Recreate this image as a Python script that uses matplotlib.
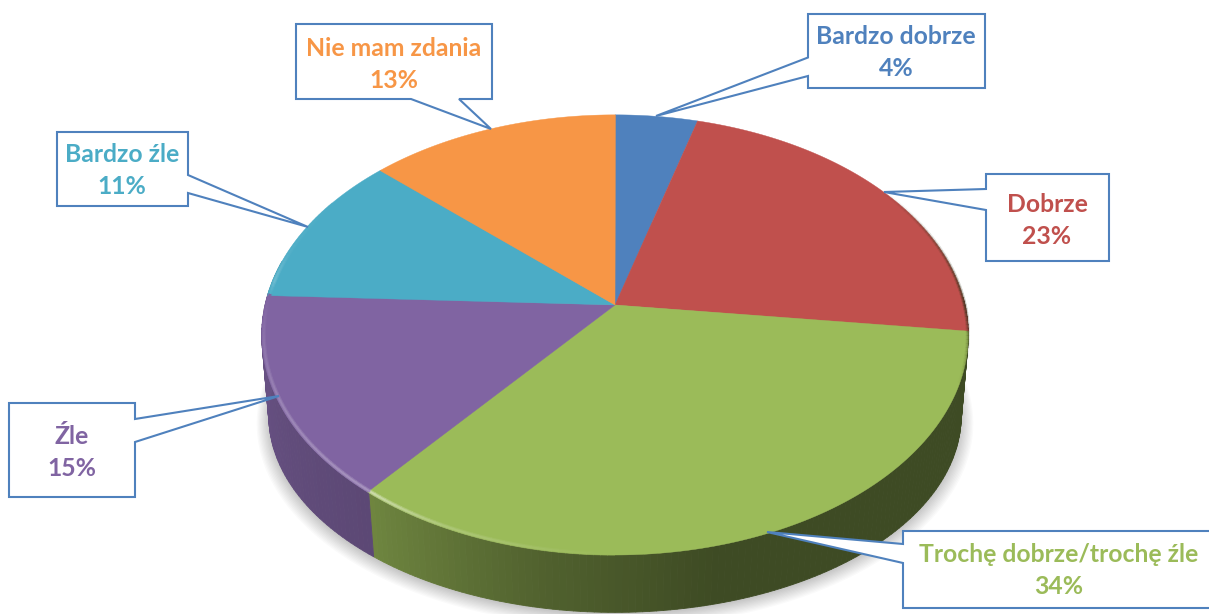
#!/usr/bin/env python3
# 3D-looking pie with callout labels, drawn in pixel coordinates
import numpy as np
import matplotlib
matplotlib.use("Agg")
import matplotlib.pyplot as plt
from matplotlib.collections import LineCollection, PolyCollection
from matplotlib.colors import to_rgb

labels = ["Bardzo dobrze", "Dobrze", "Trochę dobrze/trochę źle", "Źle", "Bardzo źle", "Nie mam zdania"]
values = [4.3, 22.6, 34.0, 14.8, 11.2, 13.1]
percent_labels = ["4%", "23%", "34%", "15%", "11%", "13%"]
colors = ["#4F81BD", "#C0504D", "#9BBB59", "#8064A2", "#4BACC6", "#F79646"]

W, H = 1209, 614
BORDER = "#4F81BD"

# perspective of the disc
CX, CY = 615.0, 305.0
A, B, K = 350.0, 216.0, 0.136
# lower edge of the wall is a bit flatter than the top face
BOTTOM_X_SCALE, BOTTOM_Y, BOTTOM_B = 0.98, 389.0, 193.0

# callout layout: box (x0, y0, x1, y1), tail base, tail tip, text centre
boxes = [(808, 14, 985, 88), (986, 174, 1109, 261), (903, 531, 1220, 608),
         (9, 403, 135, 497), (57, 132, 188, 206), (296, 24, 492, 99)]
tail_base = [((808, 57.5), (808, 76)), ((986, 189), (986, 210)), ((903, 544), (903, 563)),
             ((135, 419), (135, 442)), ((188, 175), (188, 193)), ((411, 99), (459, 99))]
tail_tip = [(656, 116), (884, 192), (767, 532), (279, 396), (308, 227), (491, 129)]
text_pos = [(896, 37, 69), (1047, 204, 237), (1059, 554, 587), (72, 436, 468), (122, 155, 187), (394, 48, 80)]


def rim(theta_deg, scale=1.0):
    # theta clockwise from 12 o'clock
    t = np.radians(theta_deg)
    u, v = np.sin(t), np.cos(t)
    w = 1 + K * v
    return CX + scale * A * u / w, CY - scale * B * v / w


def low_rim(theta_deg, scale=1.0, drop=0.0):
    t = np.radians(theta_deg)
    u, v = np.sin(t), np.cos(t)
    w = 1 + K * v
    return CX + scale * BOTTOM_X_SCALE * A * u / w, BOTTOM_Y + drop - scale * BOTTOM_B * v / w


def lighten(c, f):
    c = np.array(to_rgb(c))
    return tuple(c + (1 - c) * f)


def main():
    fig = plt.figure(figsize=(W / 100, H / 100), dpi=100)
    ax = fig.add_axes([0, 0, 1, 1])
    ax.set_xlim(0, W)
    ax.set_ylim(H, 0)
    ax.axis("off")

    edges = np.concatenate([[0], np.cumsum(values)]) / np.sum(values) * 360.0

    # soft shadow under the disc
    theta_all = np.linspace(0, 360, 361)
    for s, d in zip(np.linspace(1.035, 0.99, 14), np.linspace(7, 1, 14)):
        ax.fill(*low_rim(theta_all, s, d), color="k", alpha=0.018, lw=0, zorder=1)

    # side wall, small slices with a shade depending on angle
    step = 1.0
    thetas = np.arange(88, 282, step)
    polys, face = [], []
    for th in thetas:
        tt = np.array([th, th + step])
        top = np.column_stack(rim(tt))
        bot = np.column_stack(low_rim(tt))
        polys.append(np.vstack([top, bot[::-1]]))
        i = np.searchsorted(edges, th + step / 2) - 1
        shade = np.interp(th, [88, 165, 190, 219, 280], [0.40, 0.40, 0.52, 0.72, 0.84])
        face.append(tuple(np.array(to_rgb(colors[i])) * shade))
    ax.add_collection(PolyCollection(polys, facecolors=face, edgecolors=face, linewidths=0.6, zorder=2))

    # top of the disc
    for i in range(len(values)):
        tt = np.arange(edges[i], edges[i + 1] + 0.25, 0.25)
        xs, ys = rim(tt)
        ax.fill(np.r_[CX, xs], np.r_[CY, ys], color=colors[i], lw=0.3, zorder=3)

    # bevel along the rim: light at the front left, dark on the right
    segs, cols = [], []
    for th in np.arange(55, 300, 1.0):
        i = np.searchsorted(edges, th + 0.5) - 1
        tt = np.array([th, th + 1.1])
        if th >= 180:
            if i == 2:
                f = np.interp(th, [180, 205, 219], [0.0, 0.18, 0.5])
            else:
                f = np.interp(th, [219, 245, 262, 272, 276, 284, 300], [0.3, 0.2, 0.08, 0.0, 0.18, 0.05, 0.0])
            c, a = lighten(colors[i], f), 1.0
            segs.append(np.column_stack(rim(tt, 0.994)))
        else:
            c = (0.2, 0.2, 0.1)
            a = np.interp(th, [55, 90, 97, 110], [0.0, 0.5, 0.2, 0.0])
            segs.append(np.column_stack(rim(tt, 0.999)))
        cols.append((*c, a))
    # wide faint pass then a narrower one, so the bevel looks soft
    soft = [(r, g, b, a * 0.5) for r, g, b, a in cols]
    ax.add_collection(LineCollection(segs, colors=soft, linewidths=3.0, zorder=4, capstyle="butt"))
    ax.add_collection(LineCollection(segs, colors=cols, linewidths=1.4, zorder=4, capstyle="butt"))

    # callouts
    for i, lab in enumerate(labels):
        x0, y0, x1, y1 = boxes[i]
        p, q = tail_base[i]
        tip = tail_tip[i]
        if p[0] == x0 and q[0] == x0:      # tail on left side
            pts = [(x0, y0), (x1, y0), (x1, y1), (x0, y1), q, tip, p]
        elif p[0] == x1 and q[0] == x1:    # right side
            pts = [(x0, y0), (x1, y0), p, tip, q, (x1, y1), (x0, y1)]
        else:                              # bottom side
            pts = [(x0, y0), (x1, y0), (x1, y1), q, tip, p, (x0, y1)]
        ax.fill(*zip(*pts), facecolor="white", edgecolor=BORDER, lw=1.5, joinstyle="miter", zorder=5)
        tx, ty1, ty2 = text_pos[i]
        ax.text(tx, ty1, lab, color=colors[i], family="Lato", weight="bold", fontsize=17.8,
                ha="center", va="center", zorder=6)
        ax.text(tx, ty2, percent_labels[i], color=colors[i], family="Lato", weight="bold", fontsize=17.8,
                ha="center", va="center", zorder=6)

    fig.savefig("out.png", dpi=100, facecolor="white")


if __name__ == "__main__":
    main()
